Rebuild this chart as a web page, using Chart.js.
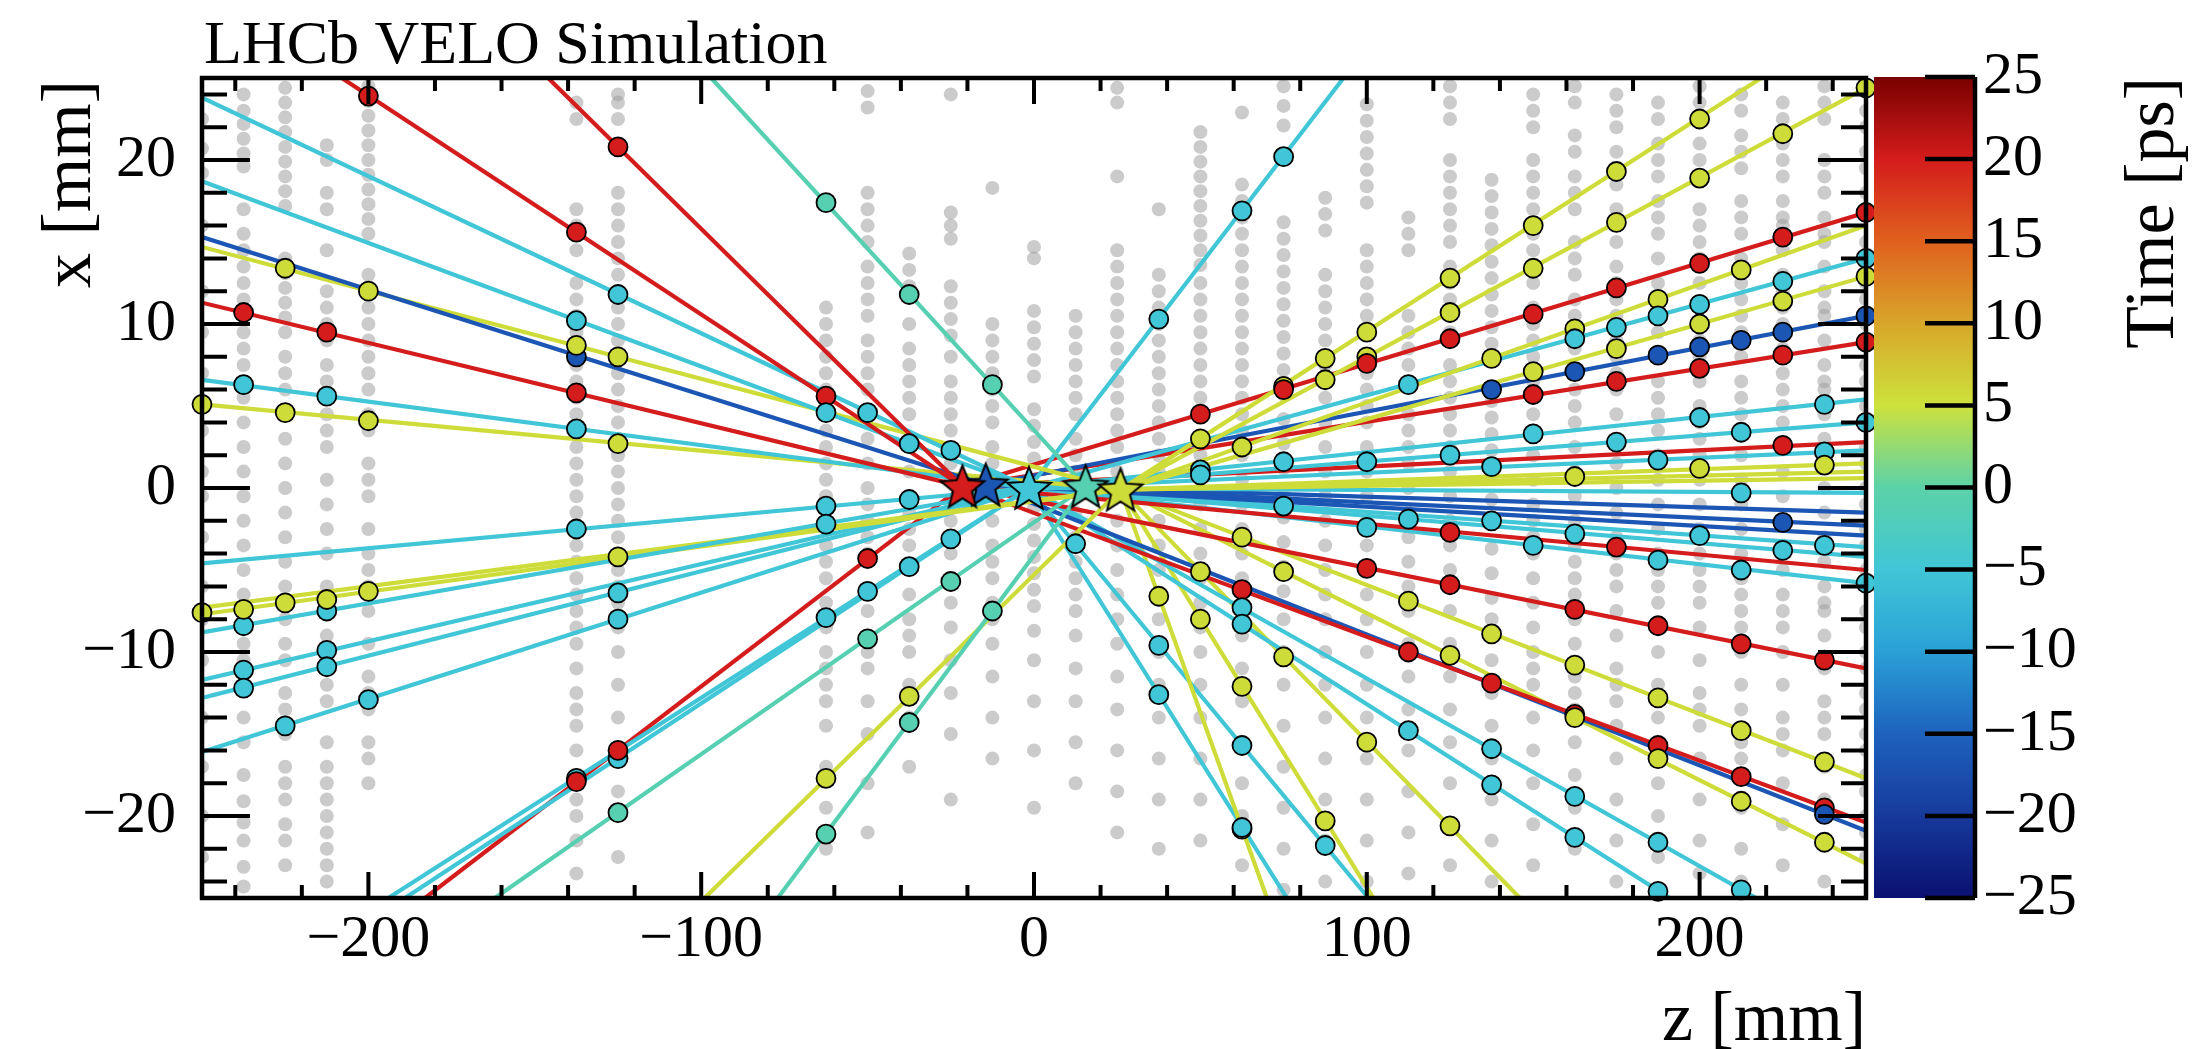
<!DOCTYPE html>
<html>
<head>
<meta charset="utf-8">
<script src="https://cdn.jsdelivr.net/npm/chart.js@4.4.1/dist/chart.umd.min.js"></script>
<style>
  html, body { margin: 0; padding: 0; background: #fff; }
  #wrap { position: relative; width: 2212px; height: 1049px; }
  canvas { position: absolute; top: 0; }
  #main { left: 0; }
  #cbar { left: 1860px; }
</style>
</head>
<body>
<div id="wrap">
  <canvas id="main" width="2212" height="1049"></canvas>
  <canvas id="cbar" width="352" height="1049"></canvas>
</div>
<script>
// Vertices (stars): z [mm], x [mm], time [ps]
const vtxZ = [-21.5, -14.5, -1.5, 15.5, 26];
const vtxX = [0.1, 0.2, 0.0, 0.1, -0.1];
const vtxTime = [20, -16.5, -5, -1, 5.5];
const vtxDrawOrder = [1, 0, 2, 3, 4];

// Tracks: vertex index and far end point (z, x)
const trkVtx  = [0, 0, 2, 2, 1, 4, 0, 2, 4, 3,
                 2, 2, 4, 4, 2, 2, 2, 2, 2, 0, 3, 3, 4,
                 2, 4, 4, 0, 4, 2, 4, 1, 0, 2, 2, 0, 2, 4, 4, 4, 2, 1, 1, 1, 2, 2, 0, 2,
                 0, 4, 0, 1, 4, 2, 2, 4, 4, 4, 2, 2];
const trkEndZ = [-208, -146, -250, -250, -250, -250, -250, -250, -250, -97,
                 -250, -250, -250, -250, -250, -250, -250, -194, -189, -183, -162, -77, -99,
                 93, 218.5, 250, 250, 250, 250, 250, 250, 250, 250, 250, 250, 250, 250, 250, 250, 250, 250, 250, 250, 250, 250, 250, 250,
                 250, 250, 250, 250, 250, 217, 191, 146, 102, 70, 100.5, 76];
const trkEndX = [25, 25, 23.8, 18.7, 15.3, 14.7, 11.3, 6.6, 5.1, 25,
                 -4.6, -8.8, -7.7, -7.3, -11.7, -12.8, -16.1, -25, -25, -25, -25, -25, -25,
                 25, 25, 24.4, 16.8, 16.0, 14.0, 12.9, 10.5, 8.9, 5.4, 4.0, 2.8, 2.3, 1.5, 1.0, 0.6, -0.3, -1.5, -2.3, -2.9, -3.6, -4.2, -5.0, -5.8,
                 -11.0, -17.7, -20.4, -20.9, -22.9, -25, -25, -25, -25, -25, -25, -25];

// Hits associated to each track (same order as tracks)
const trkHitZ = [
  [-200, -137.5, -62.5], [-125], [-125, -50, -25], [-137.5, -62.5, -37.5], [-137.5],
  [-225, -200, -137.5, -125], [-237.5, -212.5, -137.5], [-237.5, -212.5, -137.5], [-250, -225, -200, -125], [-62.5, -37.5, -12.5],
  [-137.5, -62.5, -37.5], [-237.5, -212.5, -62.5], [-250, -225, -200], [-237.5, -212.5, -125], [-237.5, -212.5],
  [-237.5, -212.5, -125], [-225, -200, -125], [-137.5, -62.5, -50], [-125, -37.5, -25], [-137.5, -125, -50],
  [-125, -50, -25], [-62.5, -37.5, -12.5], [-62.5, -37.5],
  [37.5, 62.5, 75], [50, 75, 87.5, 100, 125, 150, 175, 200], [87.5, 100, 125, 150, 175, 200, 225, 250],
  [50, 75, 100, 125, 150, 175, 200, 225, 250], [62.5, 137.5, 162.5, 187.5, 212.5], [112.5, 162.5, 175, 187.5, 200, 225, 250],
  [150, 175, 200, 225, 250], [137.5, 162.5, 187.5, 200, 212.5, 225, 250], [150, 175, 200, 225, 250],
  [50, 75, 150, 200, 237.5], [50, 100, 125, 175, 212.5, 250], [225], [137.5, 187.5, 237.5], [200, 237.5], [162.5], [],
  [212.5], [], [225], [], [75, 137.5, 200, 237.5], [112.5, 162.5, 225], [125, 175], [100, 150, 187.5, 212.5, 250],
  [100, 125, 162.5, 187.5, 212.5, 237.5], [62.5, 112.5, 137.5, 162.5, 187.5, 212.5, 237.5],
  [62.5, 112.5, 137.5, 162.5, 187.5, 212.5, 237.5], [237.5], [75, 125, 162.5, 187.5, 212.5, 237.5],
  [62.5, 137.5, 162.5, 187.5, 212.5], [62.5, 112.5, 137.5, 162.5, 187.5], [50, 75, 100, 125], [50, 62.5, 87.5],
  [37.5, 62.5], [12.5, 37.5, 62.5, 87.5], [37.5, 62.5]
];
const trkHitX = [
  [23.9, 15.6, 5.6], [20.8], [11.8, 4.6, 2.3], [10.2, 4.6, 2.7], [8.0],
  [13.4, 12.0, 8.7, 8.0], [10.7, 9.5, 5.8], [6.3, 5.6, 3.6], [5.1, 4.6, 4.1, 2.7], [17.4, 11.8, 6.3],
  [-2.5, -1.1, -0.7], [-8.4, -7.5, -2.2], [-7.6, -7.0, -6.3], [-7.4, -6.8, -4.2], [-11.1, -9.9],
  [-12.2, -10.9, -6.4], [-14.5, -12.9, -8.0], [-17.7, -7.9, -6.3], [-16.5, -4.8, -3.1], [-17.9, -16.0, -4.3],
  [-19.8, -9.2, -5.7], [-21.1, -14.3, -7.5], [-17.7, -12.7],
  [10.3, 16.9, 20.2], [3.0, 6.2, 7.9, 9.5, 12.8, 16.0, 19.3, 22.5], [6.6, 8.0, 10.7, 13.4, 16.2, 18.9, 21.6, 24.4],
  [4.5, 6.0, 7.6, 9.1, 10.6, 12.2, 13.7, 15.3, 16.8], [2.5, 7.9, 9.7, 11.5, 13.3], [6.3, 9.1, 9.8, 10.5, 11.2, 12.6, 14.0],
  [7.1, 8.5, 10.0, 11.4, 12.9], [6.0, 7.1, 8.1, 8.6, 9.0, 9.5, 10.5], [5.7, 6.5, 7.3, 8.1, 8.9],
  [1.1, 1.6, 3.3, 4.3, 5.1], [0.8, 1.6, 2.0, 2.8, 3.4, 4.0], [2.6], [1.3, 1.7, 2.2], [1.2, 1.4], [0.7], [],
  [-0.3], [], [-2.1], [], [-1.1, -2.0, -2.9, -3.5], [-1.9, -2.8, -3.8], [-2.7, -3.6], [-2.4, -3.5, -4.4, -5.0, -5.8],
  [-4.9, -5.9, -7.4, -8.4, -9.5, -10.5], [-3.0, -6.9, -8.9, -10.8, -12.8, -14.8, -16.7],
  [-6.2, -10.0, -11.9, -13.8, -15.7, -17.6, -19.5], [-19.9], [-5.1, -10.2, -14.0, -16.5, -19.1, -21.6],
  [-7.3, -15.9, -18.8, -21.6, -24.5], [-8.3, -14.8, -18.1, -21.3, -24.6], [-5.1, -10.3, -15.5, -20.6], [-8.0, -12.1, -20.3],
  [-6.6, -20.8], [-3.4, -9.6, -15.7, -21.8], [-12.6, -20.7]
];

// Unassociated hits (grey), per VELO module
const modZ = [-250, -237.5, -225, -212.5, -200, -137.5, -125, -62.5, -50, -37.5, -25, -12.5, 0, 12.5, 25, 37.5,
              50, 62.5, 75, 87.5, 100, 112.5, 125, 137.5, 150, 162.5, 175, 187.5, 200, 212.5, 225, 237.5, 250];
const greyX = [
  [22.5, 20.7, 19.2, 16, 12, 9.5, 7, 5, 3.5, 1, -0.5, -3, -6, -8, -10.5, -14, -17, -20, -22.5],
  [24, 23, 22.2, 21.3, 20.4, 19.6, 17, 15.5, 14.5, 13.5, 12.5, 11.5, 10.5, 9.5, 8.5, 7.5, 6.5, 5.5, 4, 2.5, 1, -0.5, -2, -3.5, -5, -6.5, -7.5, -9.5, -10.5, -12, -14, -15.5, -17.5, -19.1, -20.4, -21.5, -23.1, -24.3],
  [24.4, 23.5, 22.6, 21.7, 20.8, 19.9, 19, 18.1, 17.2, 14, 13.1, 12.2, 11.3, 10.4, 9.5, 8, 7, 6, 4.5, 3, 1.5, 0, -1.5, -3, -4.5, -6, -7, -8, -9.5, -10.5, -12.5, -13.5, -15, -17, -18, -19, -20.5, -21.5, -23],
  [20.9, 20, 18, 17, 14.5, 12, 11, 10, 9, 7.5, 6.5, 4.5, 3.5, 2.5, 0.5, -1, -2.5, -4, -6, -7, -9, -10, -12, -13, -15.5, -17, -18, -19, -20, -21, -22, -23, -24],
  [24.5, 23.6, 22.7, 21.8, 20.9, 20, 19.1, 18.2, 17.3, 16.4, 15.5, 13, 12, 11, 10, 9, 8, 7, 6, 4.5, 3.5, 1.5, 0.5, -0.5, -2.5, -4, -5, -6, -7.5, -9.5, -11.5, -12.5, -13.5, -15.5, -16.5, -18],
  [23.5, 22.5, 17, 16, 14.5, 12.5, 11.5, 10.5, 9.5, 8.5, 7.5, 6.5, 5.5, 4.5, 3.5, 2.5, 1.5, 0.5, -0.5, -1.5, -2.5, -3.5, -4.5, -5.5, -6.5, -7.5, -8.5, -9.5, -11, -12.5, -13.5, -14.5, -16, -19, -20, -21.5, -23.5],
  [24, 23.5, 22.5, 18, 17, 16, 15, 14, 13, 12, 11, 10, 9, 8, 7, 6, 5, 4, 3, 2, 1, 0, -1, -2, -3, -4, -5, -6, -7, -8.5, -10, -12, -14, -18.5, -22.5],
  [11, 10, 9, 8, 7, 6, 5, 3.5, 2.5, 1.5, 0.5, -0.5, -2.5, -3.5, -4.5, -5.5, -7, -8.5, -10, -11, -12, -13, -14.5, -17, -19.5, -22],
  [24.2, 23.2, 18, 17, 16, 15, 13.5, 12.5, 11.5, 10.5, 9, 8, 7, 6, 4.5, 3, 1.5, 0, -1, -2, -3, -4, -7.5, -9, -10, -11, -13, -15, -18, -21],
  [14.3, 13.3, 12.3, 10, 8.5, 7.5, 6.5, 5.5, 4.5, 3, 1, -0.5, -1.5, -2.5, -3.5, -5, -6.5, -8, -9, -10, -12, -14, -17],
  [24, 16.8, 16, 15.2, 12.3, 11.3, 10.3, 9.3, 8, 6.5, 5.5, 4.5, 3.5, 1.5, 0.5, -1, -2, -3, -4, -5.5, -7, -8.5, -10.5, -12.5, -15, -19],
  [18.3, 10, 9, 8, 7, 6, 5, 4, 2.5, 1.5, 0.5, -0.5, -2, -3.5, -4.5, -5.5, -7, -8, -9.5, -11.5, -14, -16.5],
  [14.7, 14, 10.8, 9.8, 8.8, 7.8, 6.8, 4.8, 3.8, 2.8, 1.8, -1.2, -2.2, -3.2, -4.2, -5.2, -6.2, -7.2, -8.7, -10.5, -13, -16, -19.5],
  [10.5, 9.5, 8.5, 7.5, 6.5, 5.5, 4.5, 3, 2, 1, 0, -1.5, -3, -4.5, -5.5, -6.5, -7.5, -9, -11, -13, -15.5, -18],
  [24.4, 23.5, 19, 14.5, 13.5, 12.5, 11.5, 10.5, 9.5, 8.5, 7.5, 6.5, 5.5, 4.5, 3.5, 2.5, 1, -0.5, -2, -3.5, -5, -6.5, -8, -9.5, -11.5, -13.5, -16, -18.5, -21],
  [17, 13, 12, 11, 10, 9, 8, 7, 6, 5, 4, 3, 2, 1, -0.5, -2, -3.5, -5, -6.5, -8, -10, -12, -14, -16.5, -19, -22],
  [21.7, 20.8, 19.9, 19, 18.1, 17.2, 16.3, 15.4, 14.5, 13.6, 12.5, 11.5, 10.5, 9.5, 8.5, 7.5, 6.5, 5.5, 4.5, 2, 0.5, -1, -2.5, -4, -5.5, -7, -8.5, -10, -12, -14, -16.5, -19, -21.5],
  [22.9, 18.5, 17.5, 16.5, 15.5, 14.5, 13.5, 12.5, 11.5, 10.5, 9.5, 8.5, 7.5, 6.5, 5.5, 4.5, 3.5, 2, 0.5, -1, -2.5, -4, -5.5, -7, -9, -11, -13, -15.5, -18, -20, -23],
  [24.5, 23.3, 22.1, 16.2, 15.2, 14.2, 13.2, 12.2, 11.2, 10.2, 9.2, 8.2, 7.2, 5.7, 4.2, 2.7, 1.2, -0.3, -1.8, -3.3, -4.8, -6.3, -8, -10, -12, -14.5, -17, -19.5, -22, -24.5],
  [17.7, 16.7, 15.7, 13, 12, 11, 10, 9, 7.5, 6.5, 5.5, 4, 2.5, 1, -0.5, -2, -3.5, -5, -6.5, -8, -10, -12, -14, -16.5, -19, -21.5, -24],
  [23.4, 22.4, 21.4, 20.4, 19.4, 18.4, 17.4, 14.5, 13.5, 12.5, 11.5, 10.5, 9.5, 7, 6, 5, 4, 2.5, 1, -0.5, -2, -3.5, -5, -6.5, -8, -10, -12, -14, -16.5, -19, -21.5, -24],
  [16.5, 15.5, 14.5, 10.5, 9.5, 8.5, 7.5, 6.5, 4.5, 3.5, 2.5, 1.5, 0, -1.5, -3, -4.5, -6, -7.5, -9.5, -11.5, -13.5, -16, -18.5, -21, -23.5],
  [24.5, 23.5, 22.5, 20, 19, 18, 17, 16, 15, 13.5, 12.5, 11.5, 10.5, 9.5, 7.5, 6.5, 5.5, 4.5, 3.5, 2.5, 1, -0.5, -2, -3.5, -5, -7.5, -9.5, -11.5, -13.5, -15.5, -18, -20.5, -23],
  [18.8, 17.8, 16.8, 15.8, 14.8, 13.8, 12.8, 11.8, 10.8, 9.8, 8.8, 7.8, 5.3, 4.3, 3.3, 2.3, 0.8, -0.7, -2.2, -3.7, -5.2, -6.7, -8, -10.5, -12.5, -14.5, -16.5, -19, -21.5, -24],
  [24, 23, 22, 20, 19, 18, 17, 15.5, 14.5, 13.5, 12.5, 11, 10, 9, 8, 6.5, 5.5, 4.5, 3.5, 2, 0.5, -1, -2, -3, -4, -5.5, -7, -8.5, -10, -11, -12, -14, -16, -18, -20.5, -23],
  [24.5, 23.5, 21.5, 20.5, 19, 18, 17, 15, 14, 13, 11.5, 10.5, 9.5, 8.5, 7, 6, 5, 4, 2.5, 1, -0.5, -2, -3.5, -4.5, -5.5, -6.5, -8, -9.5, -11.5, -12.5, -13.5, -15.5, -17.5, -19.5, -22],
  [24, 23, 22, 20.5, 19.5, 18.5, 17, 16, 15, 13.5, 12.5, 11.5, 10.5, 9, 8, 7, 6, 4.5, 3, 1.5, 0, -1.5, -3, -4, -5, -6, -7.5, -9, -11, -12, -13, -14.5, -16.5, -19, -21.5, -24],
  [23.5, 22.5, 21, 20, 19, 17.5, 16.5, 15.5, 14, 12.5, 11.5, 10.5, 9.5, 8, 6.5, 5.5, 4.5, 3.5, 2, 0.5, -1, -2.5, -4, -5, -6, -7, -8.5, -10, -12, -13, -14, -16, -18, -20, -22.5, -24.5],
  [24.5, 23.5, 22.5, 21, 20, 19, 17, 16, 15, 14, 12.5, 11, 10, 9, 8, 6.5, 5, 4, 3, 2, 0.5, -1, -2.5, -4, -5, -6, -7, -8.5, -10.5, -12.5, -13.5, -14.5, -16.5, -19, -21.5, -23.5],
  [24, 23, 21.5, 20.5, 19.5, 17.5, 16.5, 15.5, 14, 12.5, 11.5, 10.5, 9.5, 8, 6.5, 5.5, 4.5, 3.5, 2, 0.5, -1, -2.5, -4, -5.5, -6.5, -7.5, -8.5, -10, -12, -13.5, -15.5, -16.5, -17.5, -19.5, -22, -24],
  [23.5, 22.5, 21, 20, 19, 17.5, 16.5, 16, 14.5, 13, 12, 11, 10, 8.5, 7, 6, 5, 4, 2.5, 1, -0.5, -2, -3.5, -5, -6.5, -7.5, -8.5, -10, -12, -14, -15, -16, -18, -20.5, -23],
  [24.5, 23.5, 22.5, 20, 19, 18, 16.5, 15.5, 15, 13.5, 12, 11, 10.5, 9, 7.5, 6.5, 6, 4.5, 3, 1.5, 0, -1.5, -3, -4.5, -6, -7, -7.5, -9, -11, -13, -14, -15, -17, -19, -21.5, -24],
  [23, 22, 20.5, 19.5, 18, 17, 15, 14, 12.5, 11.5, 10, 9, 7.5, 6.5, 5, 4, 2.5, 1.5, 0, -1, -2.5, -3.5, -5, -6, -7.5, -8.5, -10, -11, -12.5, -13.5, -15, -16, -17.5, -18.5, -20, -21, -22.5]
];

// Tick labels
const zLabels = [-200, -100, 0, 100, 200];
const xLabels = [-20, -10, 0, 10, 20];
const tLabels = [-25, -20, -15, -10, -5, 0, 5, 10, 15, 20, 25];

// Colour map of the time axis
const cmapV = [-25, -20, -15, -10, -5, 0, 5, 10, 15, 20, 25];
const cmapC = [[10, 16, 112], [22, 58, 156], [30, 98, 190], [42, 160, 214], [64, 198, 214], [92, 210, 168],
               [205, 226, 60], [216, 166, 42], [224, 96, 30], [212, 28, 28], [122, 0, 0]];

const FONT = '"Liberation Serif", "Times New Roman", serif';
Chart.defaults.font.family = FONT;

function fmt(v) { return v < 0 ? '\u2212' + Math.abs(v) : String(v); }
function near(v, step) { return Math.abs(v / step - Math.round(v / step)) < 1e-6; }

function timeColor(t) {
  for (let i = 0; i < cmapV.length - 1; i++) {
    if (t <= cmapV[i + 1]) {
      const f = (t - cmapV[i]) / (cmapV[i + 1] - cmapV[i]);
      const a = cmapC[i], b = cmapC[i + 1];
      return 'rgb(' + a.map((c, k) => Math.round(c + (b[k] - c) * f)).join(',') + ')';
    }
  }
  return 'rgb(' + cmapC[cmapC.length - 1].join(',') + ')';
}

// filled five pointed star with black outline
function starImage(color) {
  const c = document.createElement('canvas');
  const R = 23, r = 10, s = 2 * R + 8;
  c.width = s; c.height = s;
  const g = c.getContext('2d');
  g.translate(s / 2, s / 2 + 2);
  g.beginPath();
  for (let i = 0; i < 10; i++) {
    const rad = i % 2 ? r : R;
    const a = -Math.PI / 2 + i * Math.PI / 5;
    g.lineTo(rad * Math.cos(a), rad * Math.sin(a));
  }
  g.closePath();
  g.fillStyle = color;
  g.fill();
  g.lineWidth = 2;
  g.strokeStyle = '#000';
  g.stroke();
  return c;
}

// ---------- datasets ----------
const datasets = [];

// stars on top
datasets.push({
  data: vtxDrawOrder.map(i => ({ x: vtxZ[i], y: vtxX[i] })),
  pointStyle: vtxDrawOrder.map(i => starImage(timeColor(vtxTime[i]))),
  pointRadius: 20,
  order: 0,
  clip: false
});

// hits on tracks
const hitPts = [], hitCols = [];
trkHitZ.forEach((zs, t) => {
  const col = timeColor(vtxTime[trkVtx[t]]);
  zs.forEach((z, k) => { hitPts.push({ x: z, y: trkHitX[t][k] }); hitCols.push(col); });
});
datasets.push({
  data: hitPts,
  backgroundColor: hitCols,
  borderColor: '#000',
  borderWidth: 1.8,
  pointRadius: 9.5,
  order: 1,
  clip: false
});

// track lines
trkVtx.forEach((v, t) => {
  datasets.push({
    data: [{ x: vtxZ[v], y: vtxX[v] }, { x: trkEndZ[t], y: trkEndX[t] }],
    showLine: true,
    borderColor: timeColor(vtxTime[v]),
    borderWidth: 4.2,
    pointRadius: 0,
    order: 2
  });
});

// grey hits
const greyPts = [];
modZ.forEach((z, m) => greyX[m].forEach(x => greyPts.push({ x: z, y: x })));
datasets.push({
  data: greyPts,
  backgroundColor: 'rgba(160,160,160,0.55)',
  borderWidth: 0,
  pointRadius: 7,
  order: 3,
  clip: 2
});

// frame, inner ticks and titles in ROOT style
const framePlugin = {
  id: 'frame',
  afterDraw(chart) {
    const { ctx, chartArea: a, scales: { x, y } } = chart;
    ctx.save();
    ctx.strokeStyle = '#000';
    ctx.lineWidth = 4;
    ctx.beginPath();
    x.ticks.forEach(t => {
      if (!near(t.value, 20)) return;
      const px = x.getPixelForValue(t.value);
      const len = near(t.value, 100) ? 26 : 13;
      ctx.moveTo(px, a.bottom); ctx.lineTo(px, a.bottom - len);
      ctx.moveTo(px, a.top); ctx.lineTo(px, a.top + len);
    });
    y.ticks.forEach(t => {
      if (!near(t.value, 2)) return;
      const py = y.getPixelForValue(t.value);
      const len = near(t.value, 10) ? 48 : 25;
      ctx.moveTo(a.left, py); ctx.lineTo(a.left + len, py);
      ctx.moveTo(a.right, py); ctx.lineTo(a.right - len, py);
    });
    ctx.stroke();
    ctx.lineWidth = 4.5;
    ctx.strokeRect(a.left, a.top, a.right - a.left, a.bottom - a.top);

    ctx.fillStyle = '#000';
    ctx.font = '62px ' + FONT;
    ctx.textAlign = 'left';
    ctx.textBaseline = 'alphabetic';
    ctx.fillText('LHCb VELO Simulation', a.left + 2, 63);

    ctx.font = '70px ' + FONT;
    ctx.textAlign = 'right';
    ctx.fillText('z [mm]', a.right, 1040);

    ctx.translate(90, a.top + 2);
    ctx.rotate(-Math.PI / 2);
    ctx.fillText('x [mm]', 0, 0);
    ctx.restore();
  }
};

new Chart(document.getElementById('main'), {
  type: 'scatter',
  data: { datasets: datasets },
  options: {
    responsive: false,
    animation: false,
    events: [],
    layout: { padding: { left: 0, top: 78, right: 346, bottom: 0 } },
    plugins: { legend: { display: false }, tooltip: { enabled: false } },
    scales: {
      x: {
        type: 'linear', min: -250, max: 250,
        afterFit: s => { s.height = 151; },
        grid: { display: false, drawTicks: false },
        border: { display: false },
        ticks: {
          stepSize: 10, maxTicksLimit: 100, autoSkip: false, maxRotation: 0, minRotation: 0, padding: 6,
          color: '#000', font: { size: 60 },
          callback: v => zLabels.includes(v) ? fmt(v) : ''
        }
      },
      y: {
        type: 'linear', min: -25, max: 25,
        afterFit: s => { s.width = 202; },
        grid: { display: false, drawTicks: false },
        border: { display: false },
        ticks: {
          stepSize: 1, maxTicksLimit: 100, autoSkip: false, padding: 26,
          color: '#000', font: { size: 60 },
          callback: v => xLabels.includes(v) ? fmt(v) : ''
        }
      }
    }
  },
  plugins: [framePlugin]
});

// ---------- colour bar ----------
function barGradient(c) {
  const a = c.chart.chartArea;
  if (!a) return '#888';
  const g = c.chart.ctx.createLinearGradient(0, a.bottom, 0, a.top);
  cmapV.forEach((v, i) => g.addColorStop((v + 25) / 50, 'rgb(' + cmapC[i].join(',') + ')'));
  return g;
}

const cbarPlugin = {
  id: 'cbarFrame',
  afterDraw(chart) {
    const { ctx, chartArea: a, scales: { y } } = chart;
    ctx.save();
    ctx.strokeStyle = '#000';
    ctx.lineWidth = 4.5;
    ctx.beginPath();
    ctx.moveTo(a.right, a.top); ctx.lineTo(a.right, a.bottom);
    y.ticks.forEach(t => {
      const py = y.getPixelForValue(t.value);
      ctx.moveTo(a.right, py); ctx.lineTo(a.right - 50, py);
    });
    ctx.stroke();
    ctx.fillStyle = '#000';
    ctx.font = '70px ' + FONT;
    ctx.textAlign = 'right';
    ctx.textBaseline = 'alphabetic';
    ctx.translate(313, a.top);
    ctx.rotate(-Math.PI / 2);
    ctx.fillText('Time [ps]', 0, 0);
    ctx.restore();
  }
};

new Chart(document.getElementById('cbar'), {
  type: 'bar',
  data: {
    labels: ['t'],
    datasets: [{ data: [[-25, 25]], backgroundColor: barGradient, borderWidth: 0, barPercentage: 1, categoryPercentage: 1 }]
  },
  options: {
    responsive: false,
    animation: false,
    events: [],
    layout: { padding: { left: 14, top: 77, right: 0, bottom: 151 } },
    plugins: { legend: { display: false }, tooltip: { enabled: false } },
    scales: {
      x: { display: false },
      y: {
        position: 'right', min: -25, max: 25,
        afterFit: s => { s.width = 237; },
        grid: { display: false, drawTicks: false },
        border: { display: false },
        ticks: {
          stepSize: 5, autoSkip: false, padding: 8,
          color: '#000', font: { size: 60 },
          callback: v => tLabels.includes(v) ? fmt(v) : ''
        }
      }
    }
  },
  plugins: [cbarPlugin]
});
</script>
</body>
</html>
